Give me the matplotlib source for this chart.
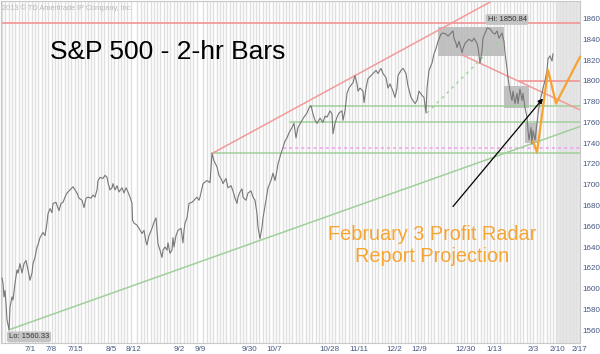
import numpy as np
import matplotlib
matplotlib.use("Agg")
import matplotlib.pyplot as plt
from matplotlib.patches import Rectangle

# bar position (chart slot) and price of the 2-hr S&P 500 bars
bar_x = [2, 3, 4, 5, 6, 7, 9, 10, 12, 13, 15, 17, 18, 20, 22, 24, 26, 28, 30, 32,
         33, 35, 37, 38, 40, 43, 45, 47, 48, 50, 52, 53, 56, 57, 59, 61, 63, 65, 67, 68,
         71, 73, 75, 77, 79, 82, 84, 86, 88, 91, 93, 95, 97, 98, 100, 103, 105, 107, 108, 110,
         112, 113, 115, 117, 119, 122, 124, 126, 128, 130, 132, 132.5, 134, 137, 139, 142, 144, 146, 147, 149,
         152, 154, 156, 157, 158, 160, 162, 163, 165, 167, 168, 170, 172, 173, 174, 176, 178, 181, 183, 184,
         185, 187, 189, 192, 194, 197, 199, 200, 203, 207, 210, 212, 214, 217, 219, 222, 223, 226, 228, 231,
         233, 235, 237, 238, 240, 242, 243, 246, 248, 251, 253, 255, 257, 258, 260, 262, 263, 266, 268, 271,
         273, 275, 277, 278, 281, 283, 285, 287, 289, 292, 294, 296, 298, 302, 304, 307, 309, 311, 313, 315,
         317, 320, 323, 325, 327, 330, 332, 333, 335, 337, 339, 342, 343, 345, 347, 349, 352, 353, 355, 357,
         358, 360, 363, 364, 366, 368, 371, 373, 376, 378, 381, 383, 386, 388, 390, 393, 395, 397, 398, 401,
         403, 406, 408, 411, 413, 415, 417, 419, 422, 424, 426, 427, 429, 432, 434, 436, 438, 441, 443, 446,
         448, 451, 453, 454, 456, 457, 459, 462, 463, 465, 467, 469, 472, 474, 477, 478, 480, 482, 483, 486,
         487, 490, 493, 495, 497, 499, 502, 504, 505, 507, 508, 510, 512, 513, 515, 517, 518, 520, 522, 523,
         525, 527, 528, 529, 531, 532, 533, 535, 537, 538, 540, 542, 543, 545, 547, 548, 550, 552, 553]
price = [1610, 1605, 1592, 1598, 1586, 1570, 1560.33, 1582, 1592, 1589, 1605, 1618, 1615, 1624, 1615, 1624, 1627, 1618, 1608, 1615,
         1624, 1630, 1640, 1642, 1649, 1654, 1651, 1663, 1672, 1677, 1673, 1682, 1683, 1680, 1675, 1682, 1683, 1688, 1692, 1693,
         1696, 1698, 1695, 1692, 1687, 1685, 1678, 1687, 1688, 1687, 1690, 1688, 1695, 1704, 1707, 1706, 1709, 1707, 1702, 1695,
         1697, 1701, 1695, 1699, 1693, 1697, 1692, 1697, 1693, 1688, 1682, 1666, 1663, 1661, 1658, 1653, 1656, 1645, 1642, 1651,
         1658, 1664, 1668, 1656, 1643, 1637, 1630, 1637, 1640, 1637, 1644, 1634, 1637, 1649, 1640, 1651, 1656, 1658, 1644, 1656,
         1663, 1668, 1682, 1683, 1685, 1688, 1685, 1688, 1701, 1704, 1702, 1730, 1723, 1717, 1709, 1704, 1701, 1706, 1697, 1699,
         1694, 1687, 1682, 1688, 1693, 1696, 1688, 1685, 1692, 1694, 1688, 1685, 1672, 1659, 1648, 1659, 1668, 1685, 1697, 1704,
         1711, 1704, 1714, 1720, 1730, 1736, 1742, 1745, 1750, 1755, 1759, 1745, 1755, 1762, 1765, 1769, 1774, 1776, 1768, 1762,
         1759, 1764, 1760, 1766, 1765, 1771, 1768, 1749, 1759, 1765, 1769, 1771, 1762, 1771, 1788, 1793, 1797, 1798, 1805, 1797,
         1790, 1793, 1790, 1779, 1793, 1802, 1805, 1807, 1810, 1807, 1812, 1807, 1803, 1793, 1797, 1790, 1784, 1793, 1805, 1810,
         1812, 1807, 1795, 1784, 1781, 1778, 1781, 1790, 1786, 1784, 1769, 1793, 1810, 1817, 1826, 1831, 1838, 1845, 1846, 1845,
         1843, 1846, 1848, 1841, 1836, 1832, 1838, 1827, 1831, 1836, 1838, 1840, 1838, 1841, 1836, 1832, 1817, 1829, 1841, 1848,
         1850.84, 1850, 1846, 1845, 1848, 1841, 1846, 1838, 1827, 1812, 1803, 1790, 1781, 1790, 1778, 1788, 1778, 1792, 1781, 1788,
         1774, 1765, 1752, 1743, 1755, 1739, 1752, 1743, 1759, 1768, 1781, 1788, 1793, 1800, 1810, 1821, 1824, 1819, 1826]

# x-axis labels (weekly dates) and their slots
date_pos = [30, 51, 75, 111, 134, 179, 200, 249, 274, 329, 359, 394, 419, 465, 494, 533, 557, 579]
date_labels = ["7/1", "7/8", "7/15", "8/5", "8/12", "9/2", "9/9", "9/30", "10/7", "10/28",
               "11/11", "12/2", "12/9", "12/30", "1/13", "2/3", "2/10", "2/17"]
price_ticks = list(range(1560, 1861, 20))

# drawn trendlines: (x0, y0, x1, y1)
red_up = (212, 1730, 500, 1881)
red_down = (462, 1825, 580, 1772)
green_up = (9, 1560.33, 580, 1756)
green_dotted = (427, 1769, 504, 1843)
# horizontal levels: (price, x start)
red_levels = [(1856, 1), (1800, 519)]
green_levels = [(1730.5, 212), (1760.5, 290), (1776, 310)]
pink_level = (1735, 283)
# consolidation boxes: (x0, x1, low, high)
boxes = [(438, 504, 1824, 1852), (504, 529, 1774, 1794.5), (525, 537, 1740.5, 1759)]
# Feb 3 projection path
proj_x = [533, 537, 548, 556, 580]
proj_y = [1742, 1731, 1810.5, 1778, 1823]
arrow_from = (453, 1679)
arrow_to = (543, 1783)

fig = plt.figure(figsize=(6, 3.54), dpi=100)
ax = fig.add_axes([1 / 600, 11 / 354, 579 / 600, 342 / 354])
ax.set_xlim(1, 580)
ax.set_ylim(1547.6, 1876.8)

ax.axvspan(556, 580, color="#e6e6e6", zorder=0, lw=0)
ax.set_xticks(np.arange(2, 580, 3.3), minor=True)
ax.grid(which="minor", axis="x", color="#e0e0e0", lw=1.0)
ax.set_axisbelow(True)

for x0, x1, lo, hi in boxes:
    ax.add_patch(Rectangle((x0, lo), x1 - x0, hi - lo, facecolor="#b8b8b8",
                           edgecolor="none", alpha=0.85, zorder=1))

red = "#f29a9a"
green = "#9fd09a"
for lvl, xs in red_levels:
    ax.plot([xs, 580], [lvl, lvl], color=red, lw=1.3, zorder=2)
for lvl, xs in green_levels:
    ax.plot([xs, 580], [lvl, lvl], color=green, lw=1.1, zorder=2)
ax.plot([pink_level[1], 580], [pink_level[0]] * 2, color="#f0a0f0", lw=1.1,
        ls=(0, (2, 2)), zorder=2)
for x0, y0, x1, y1 in (red_up, red_down):
    ax.plot([x0, x1], [y0, y1], color=red, lw=1.1, zorder=2)
ax.plot(green_up[::2], green_up[1::2], color=green, lw=1.1, zorder=2)
ax.plot(green_dotted[::2], green_dotted[1::2], color=green, lw=1.0,
        ls=(0, (2, 3)), zorder=2)

ax.plot(bar_x, price, color="#777777", lw=0.8, zorder=3)

ax.plot(proj_x, proj_y, color="#f7a330", lw=1.6, zorder=4, clip_on=False)
ax.annotate("", xy=arrow_to, xytext=arrow_from,
            arrowprops=dict(arrowstyle="-|>", color="black", lw=0.9,
                            mutation_scale=7, shrinkA=0, shrinkB=0), zorder=5)

ax.text(507, 1859, "Hi: 1850.84", fontsize=5.5, family="Liberation Sans",
        color="#333333", ha="center", va="center", zorder=6,
        bbox=dict(boxstyle="round,pad=0.25", fc="#c4c4c4", ec="none"))
ax.text(29, 1553.5, "Lo: 1560.33", fontsize=5.5, family="Liberation Sans",
        color="#333333", ha="center", va="center", zorder=6,
        bbox=dict(boxstyle="round,pad=0.25", fc="#c4c4c4", ec="none"))

ax.yaxis.tick_right()
ax.set_yticks(price_ticks)
ax.set_xticks(date_pos)
ax.set_xticklabels(date_labels)
ax.tick_params(axis="both", which="both", length=0, labelsize=5.8,
               labelcolor="#44557f")
ax.tick_params(axis="y", pad=1.5)
ax.tick_params(axis="x", pad=2)
for lab in ax.get_xticklabels() + ax.get_yticklabels():
    lab.set_family("Liberation Sans")
for sp in ax.spines.values():
    sp.set_color("#c8c8c8")
    sp.set_linewidth(0.8)

fig.text(2 / 600, 1 - 8 / 354, "2013 \u00a9 TD Ameritrade IP Company, Inc.",
         fontsize=5.3, color="#b8b8b8", family="Liberation Sans", va="center")
fig.text(50 / 600, 1 - 52 / 354, "S&P 500 - 2-hr Bars", fontsize=19,
         family="Liberation Sans", color="black", va="center")
fig.text(432 / 600, 1 - 245 / 354, "February 3 Profit Radar\nReport Projection",
         fontsize=14.3, family="Liberation Sans", color="#f7a531",
         ha="center", va="center", linespacing=1.2)

fig.savefig("out.png", dpi=100)
